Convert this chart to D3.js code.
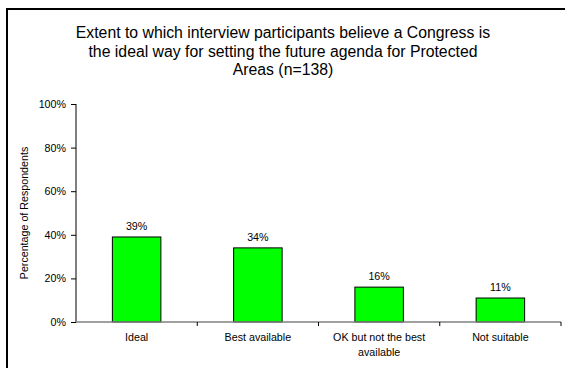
<!DOCTYPE html>
<html>
<head>
<meta charset="utf-8">
<script src="https://cdn.jsdelivr.net/npm/d3@7"></script>
<style>
  html, body { margin: 0; padding: 0; background: #fff; }
  svg { display: block; }
  text { font-family: "Liberation Sans", Arial, sans-serif; fill: #000; }
</style>
</head>
<body>
<svg id="chart" width="565" height="368"></svg>
<script>
// Survey responses: how suitable a Congress is for setting the agenda
const categories = ["Ideal", "Best available", "OK but not the best available", "Not suitable"];
const percentages = [39, 34, 16, 11];
const yTicks = [0, 20, 40, 60, 80, 100];
const titleLines = [
  "Extent to which interview participants believe a Congress is",
  "the ideal way for setting the future agenda for Protected",
  "Areas (n=138)"
];
const yAxisTitle = "Percentage of Respondents";

const svg = d3.select("#chart");

// Outer chart frame (runs off the right and bottom edges)
svg.append("rect")
  .attr("x", 7).attr("y", 9)
  .attr("width", 600).attr("height", 400)
  .attr("fill", "none")
  .attr("stroke", "#000")
  .attr("stroke-width", 2);

const plot = { left: 76, right: 561, top: 104, bottom: 322 };

const x = d3.scaleBand()
  .domain(categories)
  .range([plot.left, plot.right])
  .paddingInner(0.6)
  .paddingOuter(0.3);

const y = d3.scaleLinear()
  .domain([0, 100])
  .range([plot.bottom, plot.top]);

// Title
svg.append("text")
  .attr("text-anchor", "middle")
  .attr("font-size", 15.8)
  .selectAll("tspan")
  .data(titleLines)
  .join("tspan")
  .attr("x", 283)
  .attr("y", (d, i) => 38 + i * 18.5)
  .text(d => d);

// Bars
svg.append("g")
  .selectAll("rect")
  .data(percentages)
  .join("rect")
  .attr("x", (d, i) => x(categories[i]))
  .attr("y", d => y(d))
  .attr("width", x.bandwidth())
  .attr("height", d => y(0) - y(d))
  .attr("fill", "#00ff00")
  .attr("stroke", "#000")
  .attr("stroke-width", 1);

// Value labels
svg.append("g")
  .selectAll("text")
  .data(percentages)
  .join("text")
  .attr("x", (d, i) => x(categories[i]) + x.bandwidth() / 2)
  .attr("y", d => y(d) - 7)
  .attr("text-anchor", "middle")
  .attr("font-size", 10.7)
  .text(d => d + "%");

// Y axis
const yAxis = svg.append("g")
  .attr("transform", `translate(${plot.left},0)`)
  .call(d3.axisLeft(y).tickValues(yTicks).tickFormat(d => d + "%").tickSize(5).tickPadding(5));
yAxis.select(".domain").attr("stroke", "#000").attr("d", `M0,${plot.top}V${plot.bottom}`);
yAxis.selectAll(".tick line").attr("stroke", "#000");
yAxis.selectAll(".tick text").attr("font-size", 10.7).attr("font-family", "Liberation Sans, Arial, sans-serif").attr("fill", "#000");

// X axis baseline with ticks at category boundaries
const bounds = d3.range(categories.length + 1).map(i => plot.left + i * (plot.right - plot.left) / categories.length);
const xg = svg.append("g");
xg.append("line")
  .attr("x1", plot.left).attr("x2", plot.right)
  .attr("y1", plot.bottom).attr("y2", plot.bottom)
  .attr("stroke", "#808080").attr("stroke-width", 1.5);
xg.selectAll("line.tick")
  .data(bounds.slice(1))
  .join("line")
  .attr("class", "tick")
  .attr("x1", d => d).attr("x2", d => d)
  .attr("y1", plot.bottom).attr("y2", plot.bottom + 4)
  .attr("stroke", "#000");

// Category labels, wrapped to two lines where needed
const wrapped = {
  "OK but not the best available": ["OK but not the best", "available"]
};
xg.selectAll("text.cat")
  .data(categories)
  .join("text")
  .attr("class", "cat")
  .attr("text-anchor", "middle")
  .attr("font-size", 10.7)
  .each(function(d) {
    const lines = wrapped[d] || [d];
    d3.select(this).selectAll("tspan")
      .data(lines)
      .join("tspan")
      .attr("x", x(d) + x.bandwidth() / 2)
      .attr("y", (l, i) => 341 + i * 14.5)
      .text(l => l);
  });

// Y axis title
svg.append("text")
  .attr("transform", `translate(28,${(plot.top + plot.bottom) / 2}) rotate(-90)`)
  .attr("text-anchor", "middle")
  .attr("font-size", 10.7)
  .text(yAxisTitle);
</script>
</body>
</html>
